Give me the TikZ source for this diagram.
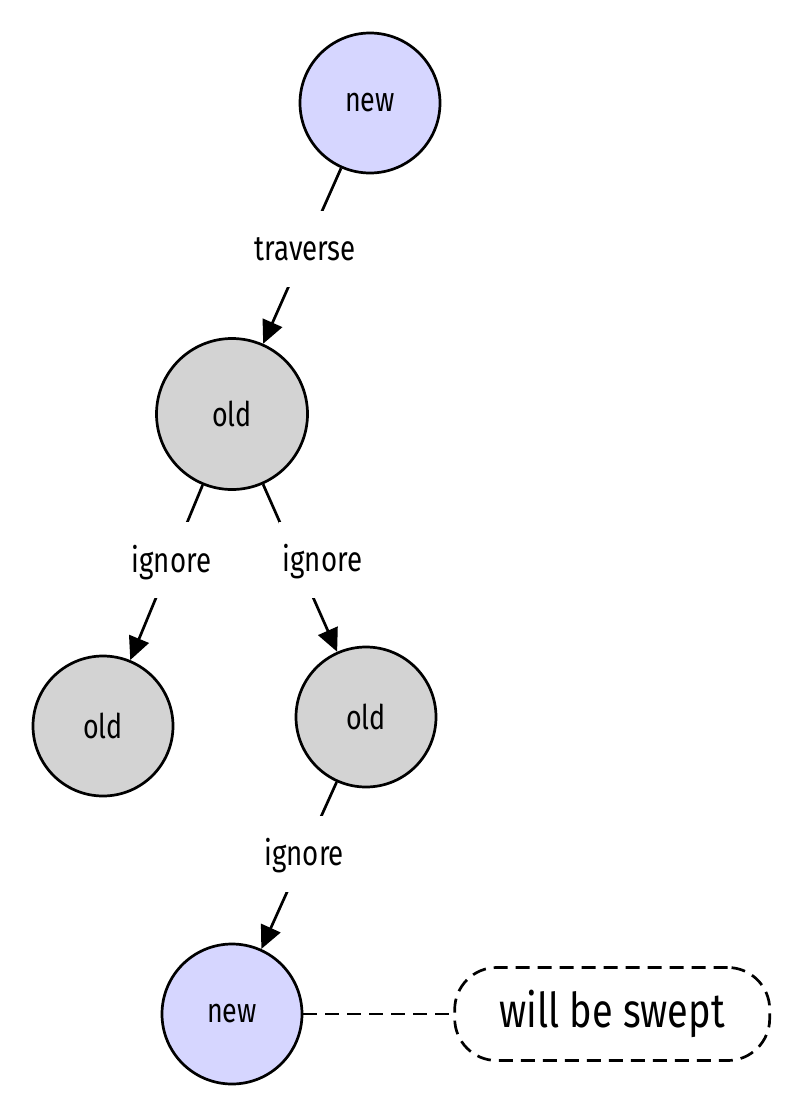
\documentclass[tikz,border=0pt]{standalone}
\usepackage{fontspec}
\setmainfont{Fira Sans}[FakeStretch=0.79]
\usepackage{xcolor}
\usetikzlibrary{arrows.meta,positioning}

\definecolor{newfill}{RGB}{214,214,255}
\definecolor{oldfill}{RGB}{211,211,211}

\begin{document}
\begin{tikzpicture}[
  x=1pt, y=-1pt, line width=2.7pt,
  >={Triangle[length=23pt,width=21pt]},
  font=\fontsize{34}{40}\selectfont,
  obj/.style={circle, draw, minimum size=140pt, inner sep=0pt},
  newobj/.style={obj, fill=newfill},
  oldobj/.style={obj, fill=oldfill},
  lbl/.style={fill=white, inner xsep=4pt, inner ysep=24pt, text height=26pt, text depth=2pt,
              font=\fontsize{35}{40}\selectfont},
  ref/.style={->},
  sweep/.style={dash pattern=on 14pt off 8pt},
  note/.style={draw, sweep, rounded corners=42pt,
               minimum width=315pt, minimum height=93pt, font=\fontsize{48}{54}\selectfont},
]
\useasboundingbox (0,0) rectangle (801,1119);

% ---------------- objects ----------------
\node[newobj] (new1) at (370,103) {new};
\node[oldobj, minimum size=151pt] (old1) at (232,414) {old};
\node[oldobj] (old2) at (103,726) {old};
\node[oldobj] (old3) at (366,717) {old};
\node[newobj] (new2) at (232,1014) {new};
\node[note, right=150pt of new2] (swept) {will be swept};

% ---------------- references ----------------
\draw[ref] (new1) -- node[lbl, pos=0.46]{traverse} (old1);
\draw[ref] (old1) -- node[lbl, pos=0.43]{ignore} (old2);
\draw[ref] (old1) -- node[lbl, pos=0.45, xshift=26pt]{ignore} (old3);
\draw[ref] (old3) -- node[lbl, pos=0.43]{ignore} (new2);
\draw[sweep] (new2) -- (swept);
\end{tikzpicture}
\end{document}
